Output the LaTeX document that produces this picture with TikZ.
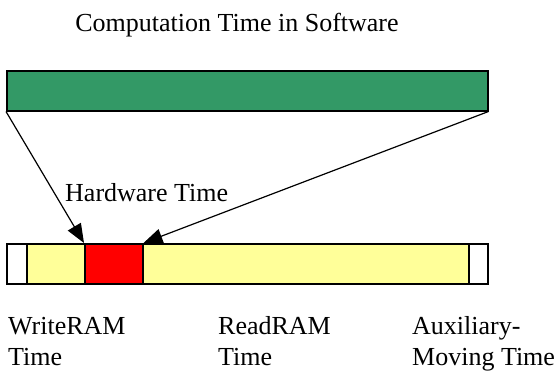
\documentclass[tikz,border=0pt]{standalone}
\usepackage{fontspec}
\setmainfont{Liberation Serif}
\usetikzlibrary{arrows.meta}
\begin{document}
\begin{tikzpicture}[x=1pt,y=-1pt,
  every node/.style={font=\fontsize{26}{31}\selectfont},
  bar/.style={draw=black,line width=1.5pt,inner sep=0pt,anchor=north west,minimum height=40pt},
  lbl/.style={inner sep=0pt,align=left,anchor=base west},
  ptr/.style={draw=black,line width=1.2pt,-{Triangle[length=19pt,width=15pt]}}]
\useasboundingbox (0,0) rectangle (560,373);
\definecolor{swgreen}{RGB}{51,153,102}
\definecolor{paleyellow}{RGB}{255,255,153}
% software time bar
\node[bar,fill=swgreen,minimum width=481pt] (sw) at (6,70) {};
% hardware time segments
\node[bar,fill=white,minimum width=20pt] (w1) at (6,243) {};
\node[bar,fill=paleyellow,minimum width=58pt] (wr) at (26,243) {};
\node[bar,fill=red,minimum width=58pt] (hw) at (84,243) {};
\node[bar,fill=paleyellow,minimum width=326pt] (rr) at (142,243) {};
\node[bar,fill=white,minimum width=19pt] (aux) at (468,243) {};
% texts
\node[inner sep=0pt,anchor=base] (title) at (237,31) {Computation Time in Software};
\node[inner sep=0pt,anchor=base west] (hwt) at (65,201) {Hardware Time};
% two-line labels: the base anchor sits on the last line
\node[lbl] (lw) at (8,365) {WriteRAM\\Time};
\node[lbl] (lr) at (218,365) {ReadRAM\\Time};
\node[lbl] (la) at (412,365) {Auxiliary-\\Moving Time};
% pointers
\draw[ptr] (sw.south west) -- (hw.north west);
\draw[ptr] (sw.south east) -- (hw.north east);
\end{tikzpicture}
\end{document}
